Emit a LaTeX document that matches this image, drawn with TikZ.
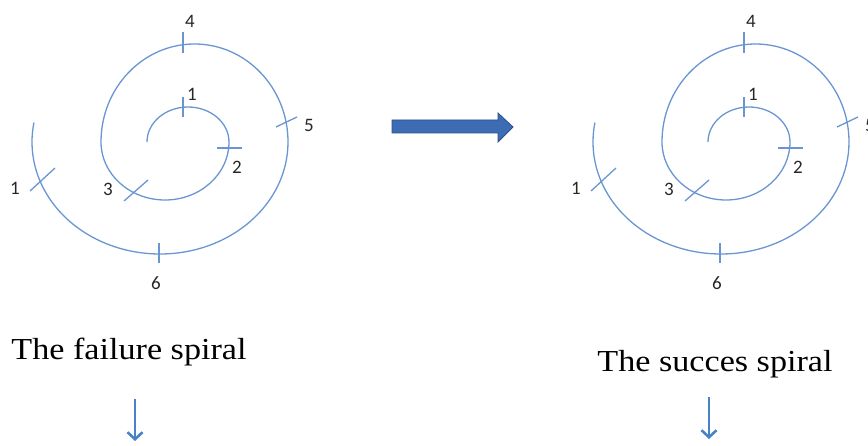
\documentclass[tikz,border=0pt]{standalone}
\usepackage{fontspec}
\setmainfont{Liberation Serif}
\newfontfamily\lblfont{Carlito}
\usetikzlibrary{arrows.meta}
\definecolor{spiralblue}{RGB}{105,150,210}
\definecolor{downblue}{RGB}{72,130,200}
\definecolor{bigfill}{RGB}{62,108,180}
\definecolor{bigedge}{RGB}{40,78,140}
\tikzset{
  spiralline/.style={draw=spiralblue, line width=1.3pt},
  ticksty/.style={draw=spiralblue, line width=1.3pt},
  num/.style={font=\lblfont\fontsize{19}{19}\selectfont, text=black!85, inner sep=0pt},
  title/.style={font=\fontsize{30.5}{34}\selectfont, inner sep=0pt, anchor=base, xscale=1.12},
  downarrow/.style={draw=downblue, line width=2.8pt, -{Straight Barb[length=7pt,width=15pt,line width=2.6pt]}}
}
\newcommand{\myspiral}{%
  \draw[spiralline] (147,303)
    arc[start angle=180,end angle=0,x radius=41,y radius=35]
    arc[start angle=0,end angle=-180,x radius=64,y radius=58]
    arc[start angle=180,end angle=0,x radius=93.5,y radius=98]
    arc[start angle=0,end angle=-190,x radius=128,y radius=112];
  \draw[ticksty] (183,348) -- (183,328);
  \draw[ticksty] (217,297) -- (242,297);
  \draw[ticksty] (124,244) -- (148,265);
  \draw[ticksty] (183,413) -- (183,392);
  \draw[ticksty] (276,318) -- (297,328);
  \draw[ticksty] (159,202) -- (159,182);
  \draw[ticksty] (30,254) -- (55,277);
  \node[num] at (192,351) {1};
  \node[num] at (237,278) {2};
  \node[num] at (108,256) {3};
  \node[num] at (190,424) {4};
  \node[num] at (309,320) {5};
  \node[num] at (156,162) {6};
  \node[num] at (15,257) {1};
}
\begin{document}
\begin{tikzpicture}[x=1pt,y=1pt]
\useasboundingbox (0,0) rectangle (868,445);
\begin{scope}
\myspiral
\end{scope}
\begin{scope}[xshift=561pt]
\myspiral
\end{scope}
% big block arrow
\draw[fill=bigfill, draw=bigedge, line width=0.8pt]
  (392,312) -- (498,312) -- (498,303) -- (513,318) -- (498,332) -- (498,325) -- (392,325) -- cycle;
\node[title] (t1) at (129,86) {The failure spiral};
\node[title] (t2) at (715,74) {The succes spiral};
\coordinate (a1s) at (135,46);
\coordinate (a1e) at (135,4);
\coordinate (a2s) at (709,48);
\coordinate (a2e) at (709,6);
\draw[downarrow] (a1s) -- (a1e);
\draw[downarrow] (a2s) -- (a2e);
\end{tikzpicture}
\end{document}
